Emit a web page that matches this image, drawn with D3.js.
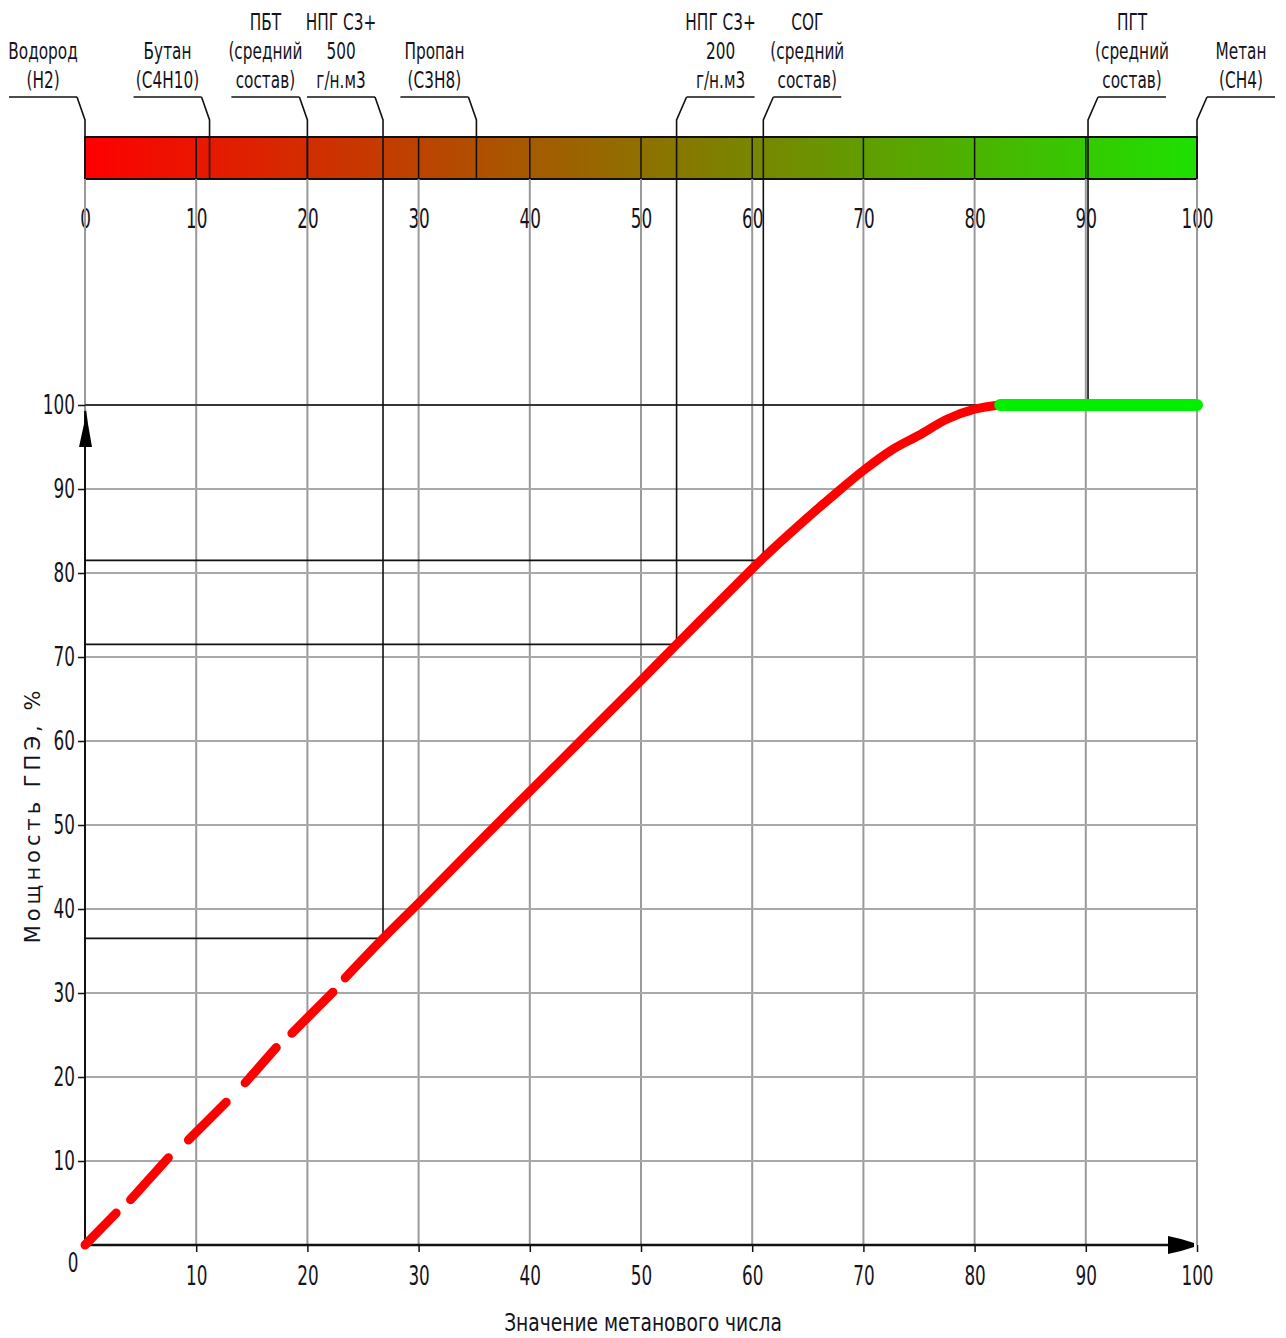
<!DOCTYPE html>
<html>
<head>
<meta charset="utf-8">
<script src="https://cdn.jsdelivr.net/npm/d3@7"></script>
<style>
  body { margin: 0; background: #fff; }
  svg { display: block; }
  .nar { font-family: "DejaVu Sans Condensed", "DejaVu Sans", sans-serif; fill: #14141e; }
</style>
</head>
<body>
<script>
// ticks of both scales
var ticks = [0, 10, 20, 30, 40, 50, 60, 70, 80, 90, 100];

// gases: methane number and engine power at that number (null = no power line)
var gasNames = [
  ["Водород", "(H2)"],
  ["Бутан", "(C4H10)"],
  ["ПБТ", "(средний", "состав)"],
  ["НПГ С3+", "500", "г/н.м3"],
  ["Пропан", "(C3H8)"],
  ["НПГ С3+", "200", "г/н.м3"],
  ["СОГ", "(средний", "состав)"],
  ["ПГТ", "(средний", "состав)"],
  ["Метан", "(CH4)"]
];
var gasMN    = [0, 11.2, 20, 26.8, 35.2, 53.2, 61, 90.2, 100];
var gasPower = [null, null, null, 36.5, null, 71.5, 81.5, 100, null];

// power curve, null = gap in the line
var curveMN    = [0, 2.8, null, 4.1, 7.5, null, 9.3, 12.7, null, 14.4, 17.2, null, 18.6, 22.3, null,
                  23.4, 26.8, 30, 35, 40, 45, 50, 53.2, 55, 60, 61, 64.3, 67, 70, 72.5, 75, 77.5, 80, 82.3];
var curvePower = [0, 3.8, null, 5.4, 10.4, null, 12.5, 17, null, 19.3, 23.5, null, 25.2, 30.1, null,
                  31.8, 36.5, 40.7, 47.4, 54, 60.6, 67.2, 71.5, 73.9, 80.5, 81.8, 85.8, 88.9, 92.2, 94.6, 96.4, 98.3, 99.5, 100];
// full power part
var flatMN    = [82.3, 100];
var flatPower = [100, 100];

var W = 1286, H = 1338;
var barTop = 137, barBot = 179;
var SX = 0.72; // horizontal squeeze of the narrow chart font

var x = d3.scaleLinear().domain([0, 100]).range([85, 1197]);
var y = d3.scaleLinear().domain([0, 100]).range([1245, 405]);
var col = d3.interpolateRgb("#ff0000", "#1ee000");

var svg = d3.select("body").append("svg").attr("width", W).attr("height", H);
svg.append("rect").attr("width", W).attr("height", H).attr("fill", "#fff");

// gradient bar
var grad = svg.append("defs").append("linearGradient").attr("id", "mn")
  .attr("gradientUnits", "userSpaceOnUse")
  .attr("x1", x(0)).attr("x2", x(100)).attr("y1", 0).attr("y2", 0);
grad.selectAll("stop").data(ticks).enter().append("stop")
  .attr("offset", function (d) { return d / 100; })
  .attr("stop-color", function (d) { return col(d / 100); });

svg.append("rect")
  .attr("x", x(0)).attr("y", barTop)
  .attr("width", x(100) - x(0)).attr("height", barBot - barTop)
  .attr("fill", "url(#mn)").attr("stroke", "#111").attr("stroke-width", 2);

svg.selectAll(".barline").data(ticks.slice(1, -1)).enter().append("line")
  .attr("x1", x).attr("x2", x).attr("y1", barTop).attr("y2", barBot)
  .attr("stroke", "#111").attr("stroke-width", 1.5);

function squeeze(sel) {
  sel.attr("font-size", 26).attr("fill", "#14141e")
    .attr("transform", "scale(" + SX + ",1)");
}

// top scale labels
var topAxis = svg.append("g").attr("class", "nar").attr("transform", "translate(0,228)")
  .call(d3.axisTop(x).tickValues(ticks).tickSize(0).tickPadding(0));
topAxis.select(".domain").remove();
topAxis.selectAll("text").call(squeeze);

// grid
svg.selectAll(".vg").data(ticks).enter().append("line")
  .attr("x1", x).attr("x2", x).attr("y1", barBot).attr("y2", y(0))
  .attr("stroke", "#9a9a9a").attr("stroke-width", 2);
svg.selectAll(".hg").data(ticks.slice(1)).enter().append("line")
  .attr("x1", x(0)).attr("x2", x(100)).attr("y1", y).attr("y2", y)
  .attr("stroke", "#a8a8a8").attr("stroke-width", 2);

// gas markers
var gas = gasMN.map(function (m, i) {
  return { mn: m, p: gasPower[i], text: gasNames[i] };
});
var g = svg.append("g").attr("stroke", "#111").attr("fill", "none").attr("stroke-width", 1.6);
gas.forEach(function (d) {
  var mx = x(d.mn), x1, x2, xe;
  if (d.mn > 50) { x1 = mx + 10; x2 = x1 + 68; xe = x1; }
  else { x2 = mx - 8; x1 = x2 - 68; xe = x2; }
  var bottom = d.p == null ? barBot : y(d.p);
  g.append("path").attr("d", d3.line()([[x1, 97], [x2, 97]]));
  g.append("path").attr("d", d3.line()([[xe, 97], [mx, 120], [mx, bottom]]));
  if (d.p != null) {
    g.append("line").attr("x1", x(0)).attr("x2", mx).attr("y1", y(d.p)).attr("y2", y(d.p));
  }
  var n = d.text.length;
  var t = svg.append("text").attr("class", "nar").attr("font-size", 23)
    .attr("text-anchor", "middle")
    .attr("transform", "translate(" + (x1 + x2) / 2 + ",0) scale(0.74,1)");
  d.text.forEach(function (s, k) {
    t.append("tspan").attr("x", 0).attr("y", 88 - (n - 1 - k) * 29).text(s);
  });
});

// axes
var ax = svg.append("g").attr("class", "nar").attr("transform", "translate(0," + y(0) + ")")
  .call(d3.axisBottom(x).tickValues(ticks.slice(1)).tickSize(7).tickPadding(15));
ax.select(".domain").remove();
ax.selectAll("line").attr("stroke", "#111").attr("stroke-width", 1.5);
ax.selectAll("text").call(squeeze);

var ay = svg.append("g").attr("class", "nar").attr("transform", "translate(" + x(0) + ",0)")
  .call(d3.axisLeft(y).tickValues(ticks.slice(1)).tickSize(7).tickPadding(7));
ay.select(".domain").remove();
ay.selectAll("line").attr("stroke", "#111").attr("stroke-width", 1.5);
ay.selectAll("text").call(squeeze);

svg.append("text").attr("class", "nar").attr("font-size", 26)
  .attr("text-anchor", "middle")
  .attr("transform", "translate(73,1272) scale(" + SX + ",1)").text("0");

svg.append("line").attr("x1", x(0)).attr("x2", x(100) - 4).attr("y1", y(0)).attr("y2", y(0))
  .attr("stroke", "#111").attr("stroke-width", 2.5);
svg.append("line").attr("x1", x(0)).attr("x2", x(0)).attr("y1", y(0)).attr("y2", y(100) + 6)
  .attr("stroke", "#111").attr("stroke-width", 2);
// arrows
svg.append("path").attr("fill", "#000")
  .attr("d", "M1168,1236 L1181,1239 L1194,1243 L1194,1247 L1181,1251 L1168,1254 Z");
svg.append("path").attr("fill", "#000")
  .attr("d", "M79,447 L92,447 L88,424 L86,409 L84,424 Z");

// curve
var line = d3.line()
  .defined(function (d) { return d[1] != null; })
  .x(function (d) { return x(d[0]); })
  .y(function (d) { return y(d[1]); })
  .curve(d3.curveMonotoneX);

svg.append("path")
  .datum(curveMN.map(function (m, i) { return [m, curvePower[i]]; }))
  .attr("d", line).attr("fill", "none")
  .attr("stroke", "#ff0000").attr("stroke-width", 9)
  .attr("stroke-linecap", "round").attr("stroke-linejoin", "round");

svg.append("path")
  .datum(flatMN.map(function (m, i) { return [m, flatPower[i]]; }))
  .attr("d", line).attr("fill", "none")
  .attr("stroke", "#00f000").attr("stroke-width", 12)
  .attr("stroke-linecap", "round");

// titles
svg.append("text").attr("class", "nar").attr("font-size", 25)
  .attr("text-anchor", "middle")
  .attr("transform", "translate(643,1331) scale(0.83,1)")
  .text("Значение метанового числа");

svg.append("text")
  .attr("transform", "translate(40,815) rotate(-90)")
  .attr("text-anchor", "middle").attr("font-size", 21)
  .attr("font-family", "DejaVu Sans, sans-serif").attr("letter-spacing", 4)
  .attr("fill", "#14141e")
  .text("Мощность ГПЭ, %");
</script>
</body>
</html>
